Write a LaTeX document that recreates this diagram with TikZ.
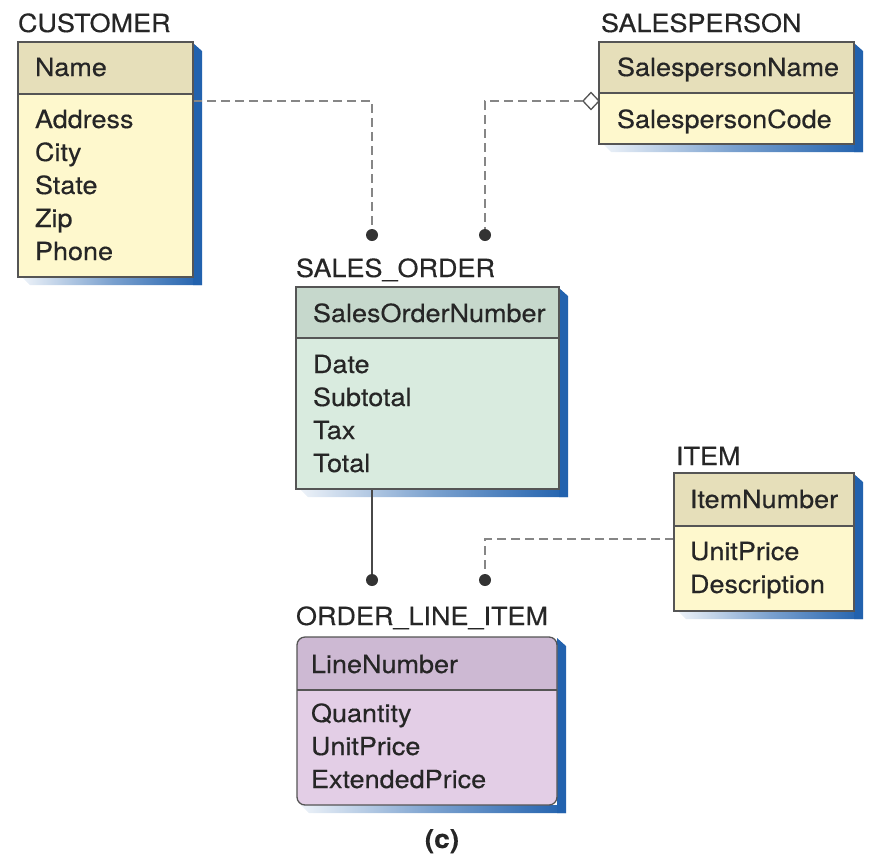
\documentclass[tikz,border=0pt]{standalone}
\usepackage{fontspec}
\setmainfont{TeX Gyre Heros}[FakeStretch=1.08,FakeBold=0.35]
\usetikzlibrary{calc,shapes.geometric}

\definecolor{txt}{HTML}{262626}
\definecolor{edge}{HTML}{555555}
\definecolor{dashgray}{HTML}{868686}
\definecolor{solidgray}{HTML}{484848}
\definecolor{dotgray}{HTML}{333333}
\definecolor{shadowblue}{HTML}{2262AE}
\definecolor{tanhdr}{HTML}{E6DFBA}
\definecolor{ybody}{HTML}{FEF8CD}
\definecolor{ghdr}{HTML}{C6D8CC}
\definecolor{gbody}{HTML}{D9EBDF}
\definecolor{phdr}{HTML}{CDB9D3}
\definecolor{pbody}{HTML}{E3CEE6}

% blue drop shadow: solid strip on the right, fading strip along the bottom
\newcommand\dropshadow[1]{%
  \shade[left color=shadowblue!8, right color=shadowblue, middle color=shadowblue!60]
    ([shift={(4,0)}]#1.south west) -- (#1.south east) -- ([shift={(9,8)}]#1.south east)
    -- ([shift={(12,8)}]#1.south west) -- cycle;
  \fill[shadowblue] ([shift={(0,1)}]#1.north east) -- ([shift={(9,9)}]#1.north east)
    -- ([shift={(9,8)}]#1.south east) -- ([shift={(0,8)}]#1.south east) -- cycle;
}
% filled entity box with a key band of the given height
\newcommand\entitybox[4]{%
  \fill[#4] (#1.north west) rectangle (#1.south east);
  \fill[#3] (#1.north west) rectangle ([shift={(0,#2)}]#1.north east);
  \draw[frame] ([shift={(0,#2)}]#1.north west) -- ([shift={(0,#2)}]#1.north east);
  \draw[frame] (#1.north west) rectangle (#1.south east);
}

\begin{document}
\begin{tikzpicture}[x=1pt,y=-1pt,
  every node/.style={inner sep=0pt, outer sep=0pt, text=txt},
  entity/.style={anchor=north west, rectangle},
  lbl/.style={anchor=base west, font=\fontsize{25}{30}\selectfont},
  attr/.style={anchor=base west, font=\fontsize{25}{30}\selectfont},
  frame/.style={draw=edge, line width=1.3pt},
  fk/.style={draw=dashgray, line width=1.5pt, dash pattern=on 9pt off 5pt},
  idline/.style={draw=solidgray, line width=1.5pt},
  enddot/.style={circle, fill=dotgray, minimum size=12pt},
]
\useasboundingbox (0,0) rectangle (870,855);

% entity outlines
\node[entity, minimum width=175pt, minimum height=235pt] (customer) at (18,42) {};
\node[entity, minimum width=255pt, minimum height=102pt] (salesperson) at (599,42) {};
\node[entity, minimum width=263pt, minimum height=202pt] (salesorder) at (296,287) {};
\node[entity, minimum width=180pt, minimum height=138pt] (item) at (674,473) {};
\node[entity, minimum width=260pt, minimum height=168pt] (oli) at (297,637) {};

% relationship end points
\coordinate (soA) at (372,235);
\coordinate (soB) at (485,235);
\coordinate (oliA) at (372,580);
\coordinate (oliB) at (485,580);

% shadows
\dropshadow{customer}
\dropshadow{salesperson}
\dropshadow{salesorder}
\dropshadow{item}
\dropshadow{oli}

% relationships
\node[diamond, draw=edge, line width=1.3pt, fill=white, minimum width=16pt, minimum height=17pt] (spD) at (591,101) {};
\draw[fk] ($(customer.north east)+(0,59)$) -| (soA);
\draw[fk] (spD.west) -| (soB);
\draw[idline] (salesorder.south -| oliA) -- (oliA);
\draw[fk] ($(item.north west)+(0,66)$) -| (oliB);

% boxes
\entitybox{customer}{52}{tanhdr}{ybody}
\entitybox{salesperson}{51}{tanhdr}{ybody}
\entitybox{salesorder}{51}{ghdr}{gbody}
\entitybox{item}{53}{tanhdr}{ybody}
\fill[pbody, rounded corners=8pt] (oli.north west) rectangle (oli.south east);
\fill[phdr] ([shift={(0,53)}]oli.north west) [rounded corners=8pt] -- (oli.north west)
  -- (oli.north east) [sharp corners] -- ([shift={(0,53)}]oli.north east) -- cycle;
\draw[frame] ([shift={(0,53)}]oli.north west) -- ([shift={(0,53)}]oli.north east);
\draw[frame, rounded corners=8pt] (oli.north west) rectangle (oli.south east);

% end dots
\node[enddot] (dA) at (soA) {};
\node[enddot] (dB) at (soB) {};
\node[enddot] (dC) at (oliA) {};
\node[enddot] (dD) at (oliB) {};

% CUSTOMER
\node[lbl] (customerL) at (18,32) {CUSTOMER};
\node[attr] (cust0) at (35,76) {Name};
\node[attr] (cust1) at (35,128) {Address};
\node[attr] (cust2) at (35,161) {City};
\node[attr] (cust3) at (35,194) {State};
\node[attr] (cust4) at (35,227) {Zip};
\node[attr] (cust5) at (35,260) {Phone};

% SALESPERSON
\node[lbl] (salespersonL) at (601,32) {SALESPERSON};
\node[attr] (sp0) at (617,76) {SalespersonName};
\node[attr] (sp1) at (617,128) {SalespersonCode};

% SALES_ORDER
\node[lbl] (salesorderL) at (296,277) {SALES\_ORDER};
\node[attr] (so0) at (313,322) {SalesOrderNumber};
\node[attr] (so1) at (313,373) {Date};
\node[attr] (so2) at (313,406) {Subtotal};
\node[attr] (so3) at (313,439) {Tax};
\node[attr] (so4) at (313,472) {Total};

% ITEM
\node[lbl] (itemL) at (676,465) {ITEM};
\node[attr] (it0) at (690,508) {ItemNumber};
\node[attr] (it1) at (690,560) {UnitPrice};
\node[attr] (it2) at (690,593) {Description};

% ORDER_LINE_ITEM
\node[lbl] (oliL) at (296,625) {ORDER\_LINE\_ITEM};
\node[attr] (ol0) at (311,673) {LineNumber};
\node[attr] (ol1) at (311,722) {Quantity};
\node[attr] (ol2) at (311,755) {UnitPrice};
\node[attr] (ol3) at (311,788) {ExtendedPrice};

% caption
\node[anchor=base, font=\fontsize{26}{30}\selectfont\bfseries] (caption) at (442,848) {(c)};
\end{tikzpicture}
\end{document}
